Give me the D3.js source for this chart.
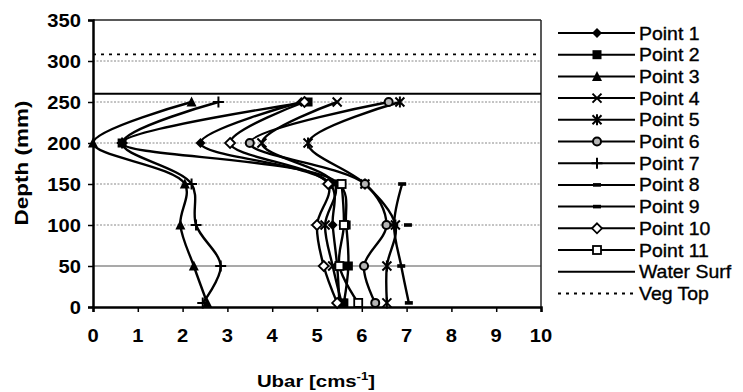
<!DOCTYPE html>
<html>
<head>
<meta charset="utf-8">
<script src="https://cdn.jsdelivr.net/npm/d3@7"></script>
<style>
  html, body { margin: 0; padding: 0; background: #fff; }
  svg { display: block; font-family: "Liberation Sans", Arial, sans-serif; }
</style>
</head>
<body>
<svg id="chart" width="743" height="392"></svg>
<script>
// Measurement depths (mm) shared by all profiles
const depths = [250, 200, 150, 100, 50, 5];

// Depth-averaged velocity Ubar (cm/s) at each depth; null = not measured
const point1  = [4.65, 2.40, 5.30, 5.35, 5.45, 5.50];
const point2  = [4.80, 0.65, 5.50, 5.65, 5.70, 5.60];
const point3  = [2.20, 0.00, 2.05, 1.95, 2.25, 2.55];
const point4  = [5.45, 3.77, 5.40, 5.18, 5.35, 5.55];
const point5  = [6.85, 4.80, 6.07, 6.75, 6.56, 6.56];
const point6  = [6.60, 3.50, 6.07, 6.55, 6.05, 6.30];
const point7  = [2.80, 0.65, 2.20, 2.30, 2.85, 2.45];
const point8  = [null, null, 6.90, 6.72, 6.88, 7.05];
const point9  = [null, null, null, 7.03, null, null];
const point10 = [4.72, 3.06, 5.25, 5.00, 5.15, 5.45];
const point11 = [null, null, 5.55, 5.60, 5.50, 5.92];

const seriesNames = ["Point 1","Point 2","Point 3","Point 4","Point 5","Point 6",
                     "Point 7","Point 8","Point 9","Point 10","Point 11"];
const seriesValues = [point1, point2, point3, point4, point5, point6,
                      point7, point8, point9, point10, point11];
const seriesMarkers = ["diamond","square","triangle","x","asterisk","circle",
                       "plus","dash","dash","openDiamond","openSquare"];

// Reference levels (mm)
const waterSurface = 260;
const vegTop = 308;

const xTicks = [0,1,2,3,4,5,6,7,8,9,10];
const yTicks = [0,50,100,150,200,250,300,350];

const svg = d3.select("#chart");
const plot = { left: 93, right: 541, top: 20, bottom: 307 };

const x = d3.scaleLinear().domain([0, 10]).range([plot.left, plot.right]);
const y = d3.scaleLinear().domain([0, 350]).range([plot.bottom, plot.top]);

// text helper: slightly widened glyphs
function label(parent, px, py, str, opts) {
  const o = Object.assign({ size: 17, weight: "normal", anchor: "start", sx: 1.15, rotate: 0, stroke: 0 }, opts || {});
  const t = parent.append("text")
    .attr("transform", `translate(${px},${py}) rotate(${o.rotate}) scale(${o.sx},1)`)
    .attr("font-size", o.size)
    .attr("font-weight", o.weight)
    .attr("text-anchor", o.anchor)
    .attr("fill", "#000")
    .text(str);
  if (o.stroke) t.attr("stroke", "#000").attr("stroke-width", o.stroke);
  return t;
}

// Horizontal gridlines
const grid = svg.append("g");
yTicks.filter(v => v > 0 && v < 350).forEach(v => {
  grid.append("line")
    .attr("x1", plot.left).attr("x2", plot.right)
    .attr("y1", y(v)).attr("y2", y(v))
    .attr("stroke", v === 50 ? "#555" : "#888")
    .attr("stroke-width", v === 50 ? 1.2 : 1)
    .attr("stroke-dasharray", v === 50 ? null : "2,1.5");
});

// Plot frame (top and right)
svg.append("line").attr("x1", plot.left).attr("x2", plot.right)
  .attr("y1", plot.top).attr("y2", plot.top).attr("stroke", "#222").attr("stroke-width", 1.5);
svg.append("line").attr("x1", plot.right).attr("x2", plot.right)
  .attr("y1", plot.top).attr("y2", plot.bottom).attr("stroke", "#222").attr("stroke-width", 1.5);

// Water surface and vegetation top
svg.append("line").attr("x1", plot.left).attr("x2", plot.right)
  .attr("y1", y(waterSurface)).attr("y2", y(waterSurface))
  .attr("stroke", "#000").attr("stroke-width", 2);
svg.append("line").attr("x1", plot.left).attr("x2", plot.right)
  .attr("y1", y(vegTop)).attr("y2", y(vegTop))
  .attr("stroke", "#000").attr("stroke-width", 1.8).attr("stroke-dasharray", "3,5");

// Axes
const xAxis = d3.axisBottom(x).tickValues(xTicks).tickSize(5).tickFormat("");
const yAxis = d3.axisLeft(y).tickValues(yTicks).tickSize(5).tickFormat("");
const gx = svg.append("g").attr("transform", `translate(0,${plot.bottom})`).call(xAxis);
const gy = svg.append("g").attr("transform", `translate(${plot.left},0)`).call(yAxis);
[gx, gy].forEach(g => {
  g.select(".domain").attr("stroke", "#000").attr("stroke-width", 2.5);
  g.selectAll(".tick line").attr("stroke", "#000").attr("stroke-width", 1.5);
});

const tickLabels = svg.append("g");
yTicks.forEach(v => label(tickLabels, 81, y(v) + 6.5, String(v), { size: 18, weight: "bold", anchor: "end", sx: 1.12 }));
xTicks.forEach(v => label(tickLabels, x(v), 342, String(v), { size: 18, weight: "bold", anchor: "middle", sx: 1.12 }));

// Axis titles
label(svg, 28, 163, "Depth (mm)", { size: 18, weight: "bold", anchor: "middle", sx: 1.25, rotate: -90 });
const xt = label(svg, 316, 387, "", { size: 17, weight: "bold", anchor: "middle", sx: 1.2 });
xt.append("tspan").text("Ubar [cms");
xt.append("tspan").attr("font-size", 11).attr("dy", -7).text("-1");
xt.append("tspan").attr("dy", 7).text("]");

// Marker shapes
function drawMarker(g, type) {
  const s = 4.5;
  switch (type) {
    case "diamond":
      g.append("path").attr("d", `M0,${-s-0.5}L${s+0.5},0L0,${s+0.5}L${-s-0.5},0Z`).attr("fill", "#000"); break;
    case "square":
      g.append("rect").attr("x", -s).attr("y", -s).attr("width", 2*s).attr("height", 2*s).attr("fill", "#000"); break;
    case "triangle":
      g.append("path").attr("d", `M0,${-s-1}L${s+0.5},${s}L${-s-0.5},${s}Z`).attr("fill", "#000"); break;
    case "x":
      g.append("path").attr("d", `M${-s},${-s}L${s},${s}M${-s},${s}L${s},${-s}`).attr("stroke", "#000").attr("stroke-width", 2); break;
    case "asterisk":
      g.append("path").attr("d", `M${-s},${-s}L${s},${s}M${-s},${s}L${s},${-s}M0,${-s-1}L0,${s+1}`).attr("stroke", "#000").attr("stroke-width", 2); break;
    case "circle":
      g.append("circle").attr("r", 4).attr("fill", "#b5b5b5").attr("stroke", "#000").attr("stroke-width", 2); break;
    case "plus":
      g.append("path").attr("d", `M${-s-1},0L${s+1},0M0,${-s-1}L0,${s+1}`).attr("stroke", "#000").attr("stroke-width", 2); break;
    case "dash":
      g.append("rect").attr("x", -4).attr("y", -1.8).attr("width", 8).attr("height", 3.6).attr("fill", "#000"); break;
    case "openDiamond":
      g.append("path").attr("d", `M0,${-s-0.5}L${s+0.5},0L0,${s+0.5}L${-s-0.5},0Z`).attr("fill", "#fff").attr("stroke", "#000").attr("stroke-width", 1.8); break;
    case "openSquare":
      g.append("rect").attr("x", -s+0.5).attr("y", -s+0.5).attr("width", 2*s-1).attr("height", 2*s-1).attr("fill", "#fff").attr("stroke", "#000").attr("stroke-width", 1.8); break;
  }
}

// Profiles
const line = d3.line()
  .x(d => x(d.u))
  .y(d => y(d.depth))
  .curve(d3.curveCatmullRom.alpha(0.5));

const profiles = svg.append("g");
seriesValues.forEach((vals, i) => {
  const pts = depths.map((dp, j) => ({ depth: dp, u: vals[j] })).filter(d => d.u !== null);
  if (pts.length > 1) {
    profiles.append("path").datum(pts).attr("d", line)
      .attr("fill", "none").attr("stroke", "#000").attr("stroke-width", 2.4);
  }
});
seriesValues.forEach((vals, i) => {
  const pts = depths.map((dp, j) => ({ depth: dp, u: vals[j] })).filter(d => d.u !== null);
  pts.forEach(d => {
    const g = profiles.append("g").attr("transform", `translate(${x(d.u)},${y(d.depth)})`);
    drawMarker(g, seriesMarkers[i]);
  });
});

// Legend
const legend = svg.append("g");
const legendNames = seriesNames.concat(["Water Surf", "Veg Top"]);
legendNames.forEach((name, i) => {
  const ly = 33 + i * 21.7;
  const row = legend.append("g");
  row.append("line").attr("x1", 558).attr("x2", 635).attr("y1", ly).attr("y2", ly)
    .attr("stroke", "#000").attr("stroke-width", 2)
    .attr("stroke-dasharray", name === "Veg Top" ? "3,5" : null);
  if (i < seriesMarkers.length) {
    const g = row.append("g").attr("transform", `translate(597,${ly})`);
    drawMarker(g, seriesMarkers[i]);
  }
  label(row, 639, ly + 6.5, name, { size: 18, sx: 1.08, stroke: 0.35 });
});
</script>
</body>
</html>
